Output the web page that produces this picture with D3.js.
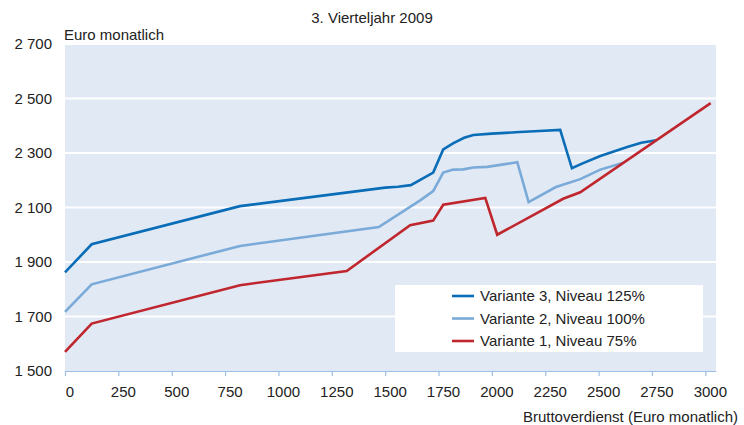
<!DOCTYPE html>
<html>
<head>
  <meta charset="utf-8">
  <title>3. Vierteljahr 2009</title>
  <style>
    body { margin: 0; background: #fff; }
    svg text { font-family: "Liberation Sans", Arial, sans-serif; fill: #222; }
  </style>
</head>
<body>
<svg width="744" height="425" class="chart"></svg>
<script src="https://cdnjs.cloudflare.com/ajax/libs/d3/7.8.5/d3.min.js"></script>
<script type="text/javascript">
  // Bruttoverdienst (x) -> Euro monatlich (y)
  var variante3 = [[0, 1862], [125, 1965], [820, 2105], [1500, 2173], [1560, 2176], [1620, 2182],
                   [1725, 2228], [1772, 2313], [1820, 2336], [1870, 2356], [1913, 2366], [2000, 2371],
                   [2130, 2377], [2200, 2380], [2320, 2385], [2375, 2244], [2425, 2262], [2508, 2289],
                   [2634, 2322], [2700, 2338], [2770, 2347]]
  var variante2 = [[0, 1717], [125, 1818], [820, 1959], [1470, 2028], [1664, 2126], [1725, 2160],
                   [1772, 2228], [1819, 2239], [1866, 2240], [1913, 2247], [1978, 2249], [2119, 2266],
                   [2172, 2120], [2300, 2175], [2414, 2204], [2508, 2239], [2616, 2264]]
  var variante1 = [[0, 1570], [125, 1674], [820, 1815], [1320, 1867], [1617, 2035], [1725, 2052],
                   [1772, 2110], [1969, 2135], [2025, 2000], [2334, 2132], [2414, 2156], [3025, 2483]]

  var seriesNames = ['Variante 3, Niveau 125%', 'Variante 2, Niveau 100%', 'Variante 1, Niveau 75%']
  var seriesColors = ['#0a6db7', '#7aaad8', '#c0262d']
  var xTicks = d3.range(0, 3001, 250)
  var yTicks = [1500, 1700, 1900, 2100, 2300, 2500, 2700]

  var svg = d3.select('.chart')
  var plotLeft = 65, plotRight = 716, plotTop = 44, plotBottom = 371

  var x = d3.scaleLinear().domain([0, 3050]).range([plotLeft, plotRight])
  var y = d3.scaleLinear().domain([1500, 2700]).range([plotBottom, plotTop])

  // plot background
  svg.append('rect')
    .attr('x', plotLeft).attr('y', plotTop)
    .attr('width', plotRight - plotLeft).attr('height', plotBottom - plotTop)
    .attr('fill', '#e1e9f4')

  // horizontal grid
  svg.append('g')
    .selectAll('line')
    .data(yTicks.slice(1))
    .enter()
    .append('line')
    .attr('x1', plotLeft).attr('x2', plotRight)
    .attr('y1', function(d){ return y(d) }).attr('y2', function(d){ return y(d) })
    .attr('stroke', '#fff').attr('stroke-width', 2.2)

  // y labels
  svg.append('g')
    .selectAll('text')
    .data(yTicks)
    .enter()
    .append('text')
    .attr('x', 52)
    .attr('y', function(d){ return y(d) })
    .attr('dy', '0.36em')
    .attr('text-anchor', 'end')
    .style('font-size', '15px')
    .text(function(d){ return d3.format(',')(d).replace(',', ' ') })

  // x axis
  var xAxis = svg.append('g')
    .attr('transform', 'translate(0,' + plotBottom + ')')
    .call(d3.axisBottom(x).tickValues(xTicks).tickFormat(d3.format('d'))
      .tickSize(5).tickPadding(10).tickSizeOuter(0))
  xAxis.select('.domain').attr('stroke', '#9dbfe5').attr('stroke-width', 1.2)
  xAxis.selectAll('.tick line').attr('stroke', '#9dbfe5').attr('stroke-width', 1.2)
  xAxis.selectAll('.tick text')
    .attr('dx', 4.5)
    .style('font-size', '15px')
    .style('font-family', '"Liberation Sans", Arial, sans-serif')
    .attr('fill', '#222')

  // lines
  var line = d3.line()
    .x(function(d){ return x(d[0]) })
    .y(function(d){ return y(d[1]) })

  var seriesData = [variante3, variante2, variante1]
  svg.append('g')
    .selectAll('path')
    .data(seriesData)
    .enter()
    .append('path')
    .attr('d', line)
    .attr('fill', 'none')
    .attr('stroke', function(d, i){ return seriesColors[i] })
    .attr('stroke-width', 2.6)
    .attr('stroke-linejoin', 'miter')

  // texts
  svg.append('text')
    .attr('x', 372).attr('y', 23)
    .attr('text-anchor', 'middle')
    .style('font-size', '15px')
    .text('3. Vierteljahr 2009')

  svg.append('text')
    .attr('x', 64).attr('y', 40)
    .style('font-size', '15px')
    .text('Euro monatlich')

  svg.append('text')
    .attr('x', 738).attr('y', 422)
    .attr('text-anchor', 'end')
    .style('font-size', '15px')
    .text('Bruttoverdienst (Euro monatlich)')

  // legend
  var legend = svg.append('g')
  legend.append('rect')
    .attr('x', 395).attr('y', 285)
    .attr('width', 308).attr('height', 67)
    .attr('fill', '#fff')

  var items = legend.selectAll('g')
    .data(seriesNames)
    .enter()
    .append('g')
    .attr('transform', function(d, i){ return 'translate(452,' + (296 + i * 22.5) + ')' })
  items.append('line')
    .attr('x1', 0).attr('x2', 22)
    .attr('stroke', function(d, i){ return seriesColors[i] })
    .attr('stroke-width', 2.6)
  items.append('text')
    .attr('x', 28)
    .attr('dy', '0.36em')
    .style('font-size', '15px')
    .text(function(d){ return d })
</script>
</body>
</html>
